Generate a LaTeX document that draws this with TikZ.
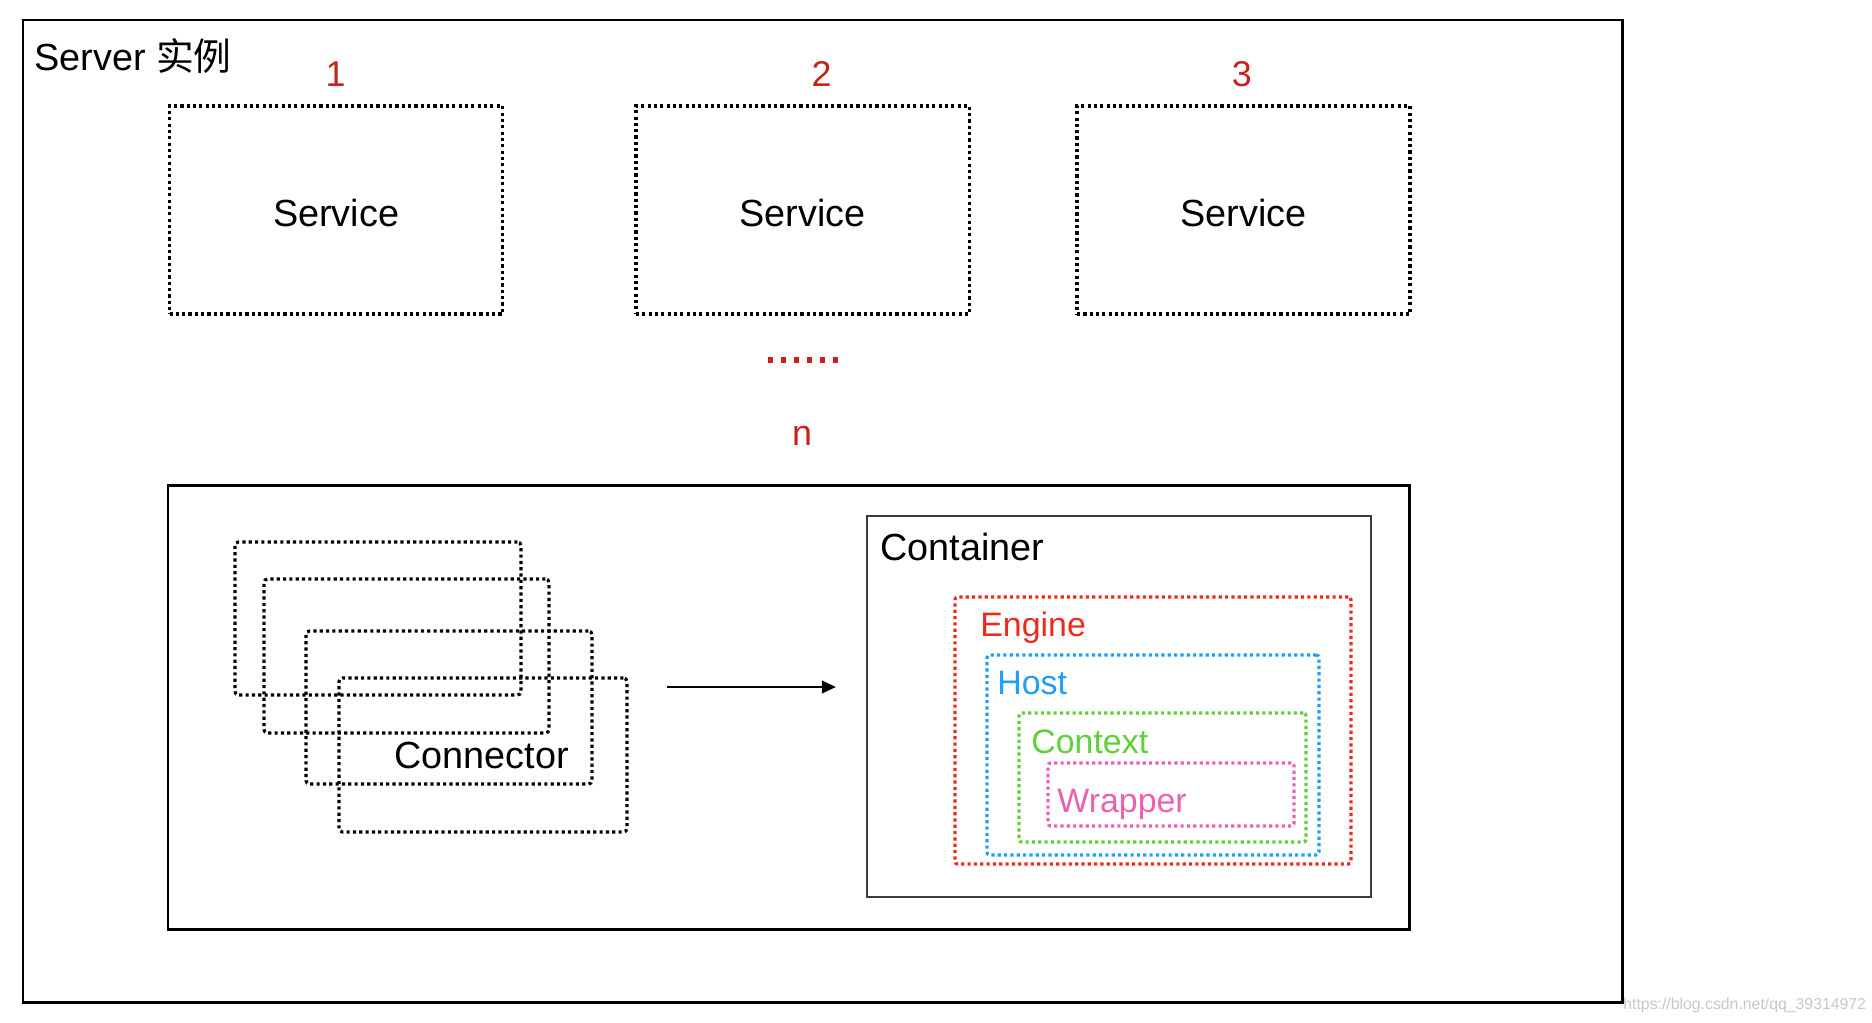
\documentclass[tikz,border=0pt]{standalone}
\usepackage{fontspec}
\setmainfont{Liberation Sans}
\newfontfamily\cjk{Noto Sans CJK SC}
\usetikzlibrary{fit,arrows.meta}
\definecolor{numred}{RGB}{200,32,26}
\definecolor{engred}{RGB}{238,42,30}
\definecolor{hostblue}{RGB}{30,158,245}
\definecolor{ctxgreen}{RGB}{96,208,58}
\definecolor{wrappink}{RGB}{236,96,176}
\definecolor{boxgray}{RGB}{60,60,60}
\begin{document}
\begin{tikzpicture}[x=0.02cm,y=-0.02cm,
  bigtxt/.style={font=\fontsize{21.5}{25}\selectfont},
  midtxt/.style={font=\fontsize{19.3}{23}\selectfont},
  solidbox/.style={draw=black,line width=1.7pt,inner sep=0pt},
  dotbox/.style={draw=black,line width=1.8pt,dash pattern=on 1.8pt off 1.8pt,inner sep=0pt},
  conbox/.style={dotbox,rounded corners=2pt},
  colbox/.style={line width=1.8pt,dash pattern=on 1.8pt off 1.8pt,inner sep=0pt,rounded corners=1.5pt},
  numtxt/.style={font=\fontsize{20.4}{24}\selectfont,text=numred,inner sep=0pt},
  arr/.style={line width=1.5pt,-{Triangle[length=8pt,width=7pt]}}
]
\useasboundingbox (0,0) rectangle (1872,1022);

% outer server box
\node[solidbox, fit={(23,20) (1622,1002)}] (server) {};
\node[bigtxt, anchor=base west, inner sep=0pt] (servertxt) at (34,70) {Server {\cjk 实例}};

% services
\node[dotbox, fit={(169.5,106) (502.6,314)}] (s1) {};
\node[dotbox, fit={(636,106) (969.5,314)}] (s2) {};
\node[dotbox, fit={(1077,106) (1410,314)}] (s3) {};
\node[bigtxt, inner sep=0pt] (s1t) at ([yshift=-0.05cm]s1.center) {Service};
\node[bigtxt, inner sep=0pt] (s2t) at ([yshift=-0.05cm]s2.center) {Service};
\node[bigtxt, inner sep=0pt] (s3t) at ([yshift=-0.05cm]s3.center) {Service};
\node[numtxt] (n1) at (335.5,74) {1};
\node[numtxt] (n2) at (821.5,74) {2};
\node[numtxt] (n3) at (1241.7,74) {3};
\coordinate (d1) at (768,360);
\coordinate (d2) at (838,360);
\draw[numred, line width=2.9pt, dash pattern=on 2.9pt off 4.5pt] (d1) -- (d2);
\node[numtxt, anchor=base] (nn) at (802,445) {n};

% inner box
\node[solidbox, fit={(168,485) (1409,929)}] (inner) {};

% connectors
\node[conbox, fit={(235,542) (521,695)}] (ca) {};
\node[conbox, fit={(264,579) (549,733)}] (cb) {};
\node[conbox, fit={(306,631) (592,784)}] (cc) {};
\node[conbox, fit={(339,678) (627,832)}] (cd) {};
\node[bigtxt, anchor=base west, inner sep=0pt] (contxt) at (394,768) {Connector};

% arrow
\coordinate (a1) at (667,687);
\coordinate (a2) at (836,687);
\draw[arr] (a1) -- (a2);

% container
\node[draw=boxgray, line width=1pt, inner sep=0pt, fit={(867,516) (1371,897)}] (container) {};
\node[bigtxt, anchor=base west, inner sep=0pt] (containertxt) at (880,560) {Container};

\node[colbox, draw=engred, fit={(955,597) (1351,864)}] (engine) {};
\node[midtxt, text=engred, anchor=base west, inner sep=0pt] (enginetxt) at (980,636) {Engine};

\node[colbox, draw=hostblue, fit={(987,655) (1319,855)}] (host) {};
\node[midtxt, text=hostblue, anchor=base west, inner sep=0pt] (hosttxt) at (997,694) {Host};

\node[colbox, draw=ctxgreen, fit={(1019,713) (1306,842)}] (context) {};
\node[midtxt, text=ctxgreen, anchor=base west, inner sep=0pt] (contexttxt) at (1031,753) {Context};

\node[colbox, draw=wrappink, fit={(1048,763) (1294,826)}] (wrapper) {};
\node[midtxt, text=wrappink, anchor=base west, inner sep=0pt] (wrappertxt) at (1057,812) {Wrapper};

% watermark
\node[anchor=base west, inner sep=0pt, font=\fontsize{9}{10}\selectfont, text=black!22] (wm) at (1623,1009) {https://blog.csdn.net/qq\_39314972};
\end{tikzpicture}
\end{document}
